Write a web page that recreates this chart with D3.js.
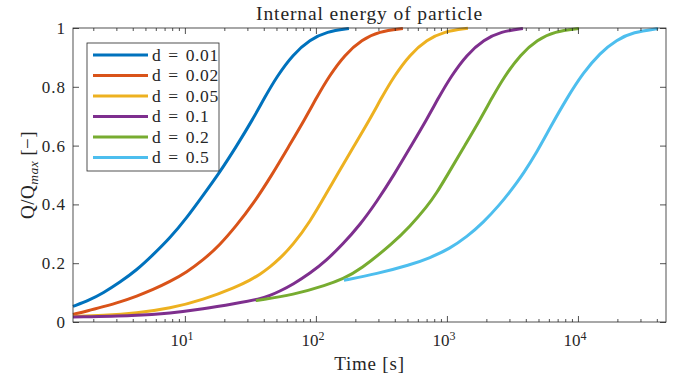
<!DOCTYPE html>
<html>
<head>
<meta charset="utf-8">
<script src="https://cdn.jsdelivr.net/npm/d3@7"></script>
<style>
  body { margin: 0; background: #fff; }
  text { font-family: "Liberation Serif", "DejaVu Serif", serif; fill: #262626; }
</style>
</head>
<body>
<div id="chart"></div>
<script>
// series, time in s and Q/Qmax
var labels = ['d = 0.01', 'd = 0.02', 'd = 0.05', 'd = 0.1', 'd = 0.2', 'd = 0.5'];
var colors = ['#0072BD', '#D95319', '#EDB120', '#7E2F8E', '#77AC30', '#4DBEEE'];

var t_001 = [1.4, 1.88, 2.37, 3.19, 4.3, 5.7, 7.68, 10.36, 13.72, 18.5, 24.94, 33.04, 40.81, 50.39, 66.73, 90, 121.3, 178.6];
var q_001 = [0.053, 0.075, 0.098, 0.135, 0.177, 0.228, 0.285, 0.355, 0.43, 0.51, 0.6, 0.69, 0.765, 0.835, 0.91, 0.96, 0.988, 0.998];

var t_002 = [1.4, 1.82, 2.37, 3.19, 4.3, 5.7, 7.68, 10.36, 13.72, 18.5, 24.94, 33.04, 46.15, 62.22, 82.41, 101.8, 125.7, 166.5, 224.4, 302.6, 461.5];
var q_002 = [0.026, 0.038, 0.052, 0.068, 0.088, 0.11, 0.137, 0.17, 0.21, 0.262, 0.33, 0.4, 0.5, 0.598, 0.69, 0.765, 0.835, 0.91, 0.96, 0.988, 0.998];

var t_005 = [1.4, 2.37, 4.3, 7.68, 13.72, 24.94, 31.35, 37.36, 44.57, 53.12, 66.73, 90, 121.3, 144.6, 195, 258.4, 319, 393.9, 522, 703.7, 948.6, 1446];
var q_005 = [0.019, 0.022, 0.03, 0.046, 0.075, 0.12, 0.142, 0.162, 0.187, 0.216, 0.262, 0.34, 0.44, 0.5, 0.598, 0.69, 0.765, 0.835, 0.91, 0.96, 0.988, 0.999];

var t_01 = [1.4, 4.3, 7.68, 13.72, 24.94, 37.36, 44.57, 53.12, 66.73, 90, 121.3, 160.7, 216.7, 292.2, 393.9, 531.2, 703.7, 868.8, 1073, 1421, 1916, 2584, 3803];
var q_01 = [0.017, 0.022, 0.03, 0.044, 0.064, 0.078, 0.09, 0.105, 0.128, 0.165, 0.211, 0.265, 0.33, 0.41, 0.5, 0.598, 0.69, 0.765, 0.835, 0.91, 0.96, 0.988, 0.998];

var t_02 = [34.83, 37.36, 66.73, 121.3, 160.7, 216.7, 387, 522, 703.7, 838.9, 1009, 1360, 1802, 2225, 2748, 3640, 4908, 6616, 10180];
var q_02 = [0.073, 0.075, 0.092, 0.126, 0.147, 0.177, 0.268, 0.325, 0.392, 0.44, 0.5, 0.598, 0.69, 0.765, 0.835, 0.91, 0.96, 0.988, 0.998];

var t_05 = [163.6, 292.2, 522, 741.8, 1054, 1421, 1883, 2539, 3026, 3423, 3803, 4864, 6113, 8197, 10980, 14720, 19740, 26430, 40810];
var q_05 = [0.142, 0.164, 0.194, 0.218, 0.25, 0.29, 0.337, 0.4, 0.443, 0.475, 0.503, 0.578, 0.66, 0.76, 0.848, 0.915, 0.96, 0.986, 0.998];

var times = [t_001, t_002, t_005, t_01, t_02, t_05];
var values = [q_001, q_002, q_005, q_01, q_02, q_05];

var xMajor = [10, 100, 1000, 10000];
var yTicks = [0, 0.2, 0.4, 0.6, 0.8, 1];

var width = 686, height = 380;
var margin = {top: 28, right: 20, bottom: 58, left: 73};
var innerW = width - margin.left - margin.right;
var innerH = height - margin.top - margin.bottom;

var svg = d3.select('#chart').append('svg')
    .attr('width', width)
    .attr('height', height);

var x = d3.scaleLog().domain([1.4, 47000]).range([0, innerW]);
var y = d3.scaleLinear().domain([0, 1]).range([innerH, 0]);

var g = svg.append('g')
    .attr('transform', 'translate(' + margin.left + ',' + margin.top + ')');

// minor ticks on the log axis
var xMinor = [];
[1, 10, 100, 1000, 10000].forEach(function(dec) {
  for (var k = 2; k <= 9; k++) {
    var v = dec * k;
    if (v >= 1.4 && v <= 47000) xMinor.push(v);
  }
});

function styleAxis(sel) {
  sel.select('.domain').remove();
  sel.selectAll('line').attr('stroke', '#262626').attr('stroke-width', 0.8);
}

// basis spline keeps the read-off points from showing kinks
var line = d3.line()
    .x(function(d) { return x(d[0]); })
    .y(function(d) { return y(d[1]); })
    .curve(d3.curveBasis);

times.forEach(function(ts, i) {
  var pts = ts.map(function(t, j) { return [t, values[i][j]]; });
  g.append('path')
      .datum(pts)
      .attr('fill', 'none')
      .attr('stroke', colors[i])
      .attr('stroke-width', 3)
      .attr('d', line);
});

// bottom axis
var xAxis = g.append('g')
    .attr('transform', 'translate(0,' + innerH + ')')
    .call(d3.axisBottom(x).tickValues(xMajor).tickSize(-6).tickPadding(12).tickFormat(function() { return '10'; }));
styleAxis(xAxis);
xAxis.selectAll('text')
    .attr('font-size', 17)
    .attr('dx', '-0.2em')
    .each(function(d) {
      d3.select(this).append('tspan')
        .attr('dy', '-0.5em')
        .attr('font-size', 12)
        .text(Math.round(Math.log10(d)));
    });

g.append('g')
    .attr('transform', 'translate(0,' + innerH + ')')
    .call(d3.axisBottom(x).tickValues(xMinor).tickSize(-3).tickFormat(''))
    .call(styleAxis);

// top axis, ticks only
g.append('g')
    .call(d3.axisTop(x).tickValues(xMajor).tickSize(-6).tickFormat(''))
    .call(styleAxis);
g.append('g')
    .call(d3.axisTop(x).tickValues(xMinor).tickSize(-3).tickFormat(''))
    .call(styleAxis);

// left axis
var yAxis = g.append('g')
    .call(d3.axisLeft(y).tickValues(yTicks).tickSize(-6).tickPadding(7).tickFormat(d3.format('~g')));
styleAxis(yAxis);
yAxis.selectAll('text').attr('font-size', 17).attr('letter-spacing', 1);

// right axis, ticks only
g.append('g')
    .attr('transform', 'translate(' + innerW + ',0)')
    .call(d3.axisRight(y).tickValues(yTicks).tickSize(-6).tickFormat(''))
    .call(styleAxis);

// box
g.append('rect')
    .attr('width', innerW)
    .attr('height', innerH)
    .attr('fill', 'none')
    .attr('stroke', '#262626')
    .attr('stroke-width', 0.8);

// title and axis labels
svg.append('text')
    .attr('x', margin.left + innerW / 2)
    .attr('y', 20)
    .attr('text-anchor', 'middle')
    .attr('font-size', 19.5)
    .attr('letter-spacing', 0.9)
    .text('Internal energy of particle');

svg.append('text')
    .attr('x', margin.left + innerW / 2)
    .attr('y', 370)
    .attr('text-anchor', 'middle')
    .attr('font-size', 19)
    .attr('letter-spacing', 0.8)
    .text('Time [s]');

var ylab = svg.append('text')
    .attr('transform', 'translate(34,' + (margin.top + innerH / 2) + ') rotate(-90)')
    .attr('text-anchor', 'middle')
    .attr('font-size', 19)
    .attr('letter-spacing', 0.5);
ylab.append('tspan').text('Q/Q');
ylab.append('tspan').attr('font-style', 'italic').attr('font-size', 13.5).attr('dy', 4).text('max');
ylab.append('tspan').attr('dy', -4).attr('dx', 5).text('[\u2212]');

// legend
var leg = svg.append('g').attr('transform', 'translate(87,43)');
leg.append('rect')
    .attr('width', 132)
    .attr('height', 128)
    .attr('fill', '#fff')
    .attr('stroke', '#262626')
    .attr('stroke-width', 0.8);

var item = leg.selectAll('g.item')
    .data(labels)
    .enter().append('g')
    .attr('class', 'item')
    .attr('transform', function(d, i) { return 'translate(0,' + (12 + i * 20.5) + ')'; });

item.append('line')
    .attr('x1', 6).attr('x2', 61)
    .attr('stroke', function(d, i) { return colors[i]; })
    .attr('stroke-width', 3);

item.append('text')
    .attr('x', 65)
    .attr('dy', '0.33em')
    .attr('font-size', 17.5)
    .attr('letter-spacing', 0.6)
    .attr('word-spacing', 2)
    .text(function(d) { return d; });
</script>
</body>
</html>
